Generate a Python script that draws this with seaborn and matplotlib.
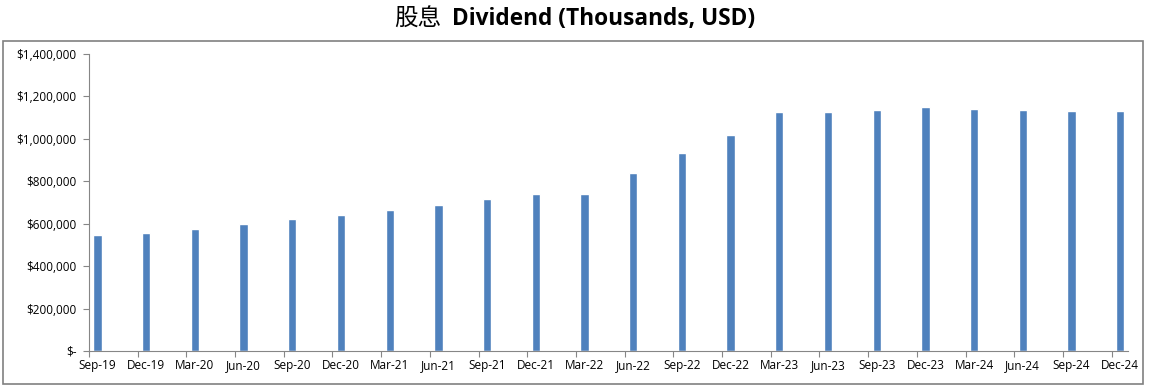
import numpy as np
import pandas as pd
import matplotlib
matplotlib.use('Agg')
import matplotlib.pyplot as plt
import matplotlib.ticker as mticker
from matplotlib.patches import Rectangle
import seaborn as sns

# 분기 라벨과 배당금 (천 달러)
quarters = ['Sep-19', 'Dec-19', 'Mar-20', 'Jun-20', 'Sep-20', 'Dec-20', 'Mar-21', 'Jun-21',
            'Sep-21', 'Dec-21', 'Mar-22', 'Jun-22', 'Sep-22', 'Dec-22', 'Mar-23', 'Jun-23',
            'Sep-23', 'Dec-23', 'Mar-24', 'Jun-24', 'Sep-24', 'Dec-24']
dividend = [545000, 558000, 577000, 600000, 620000, 643000, 667000, 690000,
            718000, 742000, 742000, 840000, 935000, 1020000, 1128000, 1128000,
            1138000, 1148000, 1143000, 1138000, 1133000, 1133000]
y_ticks = [0, 200000, 400000, 600000, 800000, 1000000, 1200000, 1400000]

sns.set_theme(style='white')
plt.rcParams['font.family'] = ['Open Sans', 'DejaVu Sans']

df = pd.DataFrame({'pos': np.arange(len(quarters)), 'value': dividend})

fig = plt.figure(figsize=(11.51, 3.91), dpi=100)
ax = fig.add_axes([89 / 1151, 40 / 391, (1128 - 89) / 1151, (351 - 54) / 391])

sns.barplot(data=df, x='pos', y='value', native_scale=True, width=0.17,
            color='#4F81BD', saturation=1, ax=ax)

off = 0.175
ax.set_xlim(-off, len(quarters) - 1 + 0.16)
ax.set_ylim(0, 1400000)
ax.set_xticks(np.arange(len(quarters)))
ax.set_xticklabels(quarters)
ax.set_xticks(np.arange(len(quarters)) - off, minor=True)
ax.set_yticks(y_ticks)
ax.yaxis.set_major_formatter(mticker.FuncFormatter(
    lambda v, p: '$-' if v == 0 else '${:,.0f}'.format(v)))

ax.tick_params(axis='x', which='major', length=0, pad=6, labelsize=8.5, colors='black')
ax.tick_params(axis='x', which='minor', bottom=True, length=4, width=0.8, color='#868686')
ax.tick_params(axis='y', which='major', left=True, length=4, width=0.8, color='#868686',
               labelsize=8.5, labelcolor='black', pad=5)
for s in ['top', 'right']:
    ax.spines[s].set_visible(False)
for s in ['left', 'bottom']:
    ax.spines[s].set_color('#868686')
    ax.spines[s].set_linewidth(0.8)
ax.set_xlabel('')
ax.set_ylabel('')

# 바깥 테두리
fig.patches.append(Rectangle((2.5 / 1151, 7 / 391), (1143 - 2.5) / 1151, (384 - 40.7) / 391,
                             transform=fig.transFigure, fill=False, edgecolor='#808080',
                             linewidth=1.2))

# 제목 (한자는 보통, 영문은 굵게)
fig.text(441 / 1151, 1 - 19 / 391, '股息', ha='right', va='center', fontsize=17,
         family=['Noto Sans CJK SC'], fontweight='normal', color='black')
fig.text(452 / 1151, 1 - 19 / 391, 'Dividend (Thousands, USD)', ha='left', va='center',
         fontsize=16.3, fontweight='bold', color='black')

fig.savefig('out.png', dpi=100)
